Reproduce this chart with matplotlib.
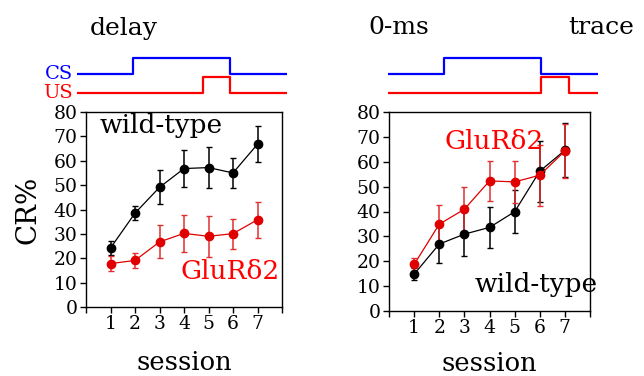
import matplotlib
matplotlib.use("Agg")
import matplotlib.pyplot as plt

plt.rcParams["font.family"] = ["DejaVu Serif"]

# session numbers
sessions = [1, 2, 3, 4, 5, 6, 7]

# delay paradigm (CR%, mean and s.e.m.)
delay_wt = [24.2, 38.5, 49.1, 56.8, 57.2, 55.0, 66.8]
delay_wt_err = [3.0, 3.0, 7.0, 7.7, 8.3, 6.2, 7.4]
delay_ko = [17.8, 19.1, 26.7, 30.2, 29.0, 30.1, 35.8]
delay_ko_err = [3.0, 3.0, 6.8, 7.7, 8.3, 6.2, 7.4]

# 0-ms trace paradigm
trace_wt = [14.8, 26.9, 30.9, 33.6, 39.9, 56.2, 64.6]
trace_wt_err = [2.5, 7.8, 8.7, 8.1, 8.6, 12.3, 10.9]
trace_ko = [18.7, 34.9, 40.9, 52.3, 51.9, 54.6, 64.3]
trace_ko_err = [2.8, 7.9, 9.0, 8.0, 8.4, 12.3, 11.0]

# stimulus timing (ms)
t_start, t_end = -200, 556
cs_on, cs_off = 0, 352
delay_us = (252, 352)
trace_us = (352, 452)

yticks = [0, 10, 20, 30, 40, 50, 60, 70, 80]

W, H = 644, 376
fig = plt.figure(figsize=(W / 100, H / 100), dpi=100)


def px_axes(x0, y0, x1, y1):
    return fig.add_axes([x0 / W, 1 - y1 / H, (x1 - x0) / W, (y1 - y0) / H])


def pulse(on, off):
    return [t_start, on, on, off, off, t_end], [0, 0, 1, 1, 0, 0]


def draw_stim(ax, us, labels):
    tx, ty = pulse(cs_on, cs_off)
    ax.plot(tx, [v + 1.2 for v in ty], color="#0000ff", lw=1.6)
    tx, ty = pulse(*us)
    ax.plot(tx, ty, color="#ff0000", lw=1.6)
    ax.set_xlim(t_start, t_end)
    ax.set_ylim(-0.2, 2.4)
    ax.axis("off")
    if labels:
        ax.text(t_start - 15, 1.2, "CS", color="#0000ff", ha="right",
                va="center", fontsize=14)
        ax.text(t_start - 15, 0, "US", color="#ff0000", ha="right",
                va="center", fontsize=14)


def draw_cr(ax, wt, wt_err, ko, ko_err):
    ax.errorbar(sessions, wt, yerr=wt_err, color="black", marker="o",
                markersize=6, lw=0.9, elinewidth=1.1, capsize=2.5)
    ax.errorbar(sessions, ko, yerr=ko_err, color="#e00000", marker="o",
                markersize=6, lw=0.9, elinewidth=1.1, capsize=2.5,
                ecolor="#e03030")
    ax.set_xlim(0, 8)
    ax.set_ylim(0, 80)
    ax.set_xticks(range(0, 9))
    ax.set_xticklabels([""] + [str(s) for s in sessions] + [""])
    ax.set_yticks(yticks)
    ax.tick_params(direction="out", length=4, width=1, labelsize=13.5, pad=2)
    for sp in ax.spines.values():
        sp.set_linewidth(1)


# delay
ax1 = px_axes(86, 112, 282, 307)
draw_cr(ax1, delay_wt, delay_wt_err, delay_ko, delay_ko_err)
ax1.text(0.55, 74.5, "wild-type", fontsize=19, va="center")
ax1.text(7.9, 14.5, "GluRδ2", fontsize=19, va="center", ha="right",
         color="#ff0000")
ax1.set_ylabel("CR%", fontsize=20, labelpad=9)
ax1.set_xlabel("session", fontsize=18.5, labelpad=12)

s1 = px_axes(77, 55, 287, 96)
draw_stim(s1, delay_us, True)
fig.text(90 / W, 1 - 28 / H, "delay", fontsize=18, va="center")

# 0-ms trace
ax2 = px_axes(389, 112, 590, 311)
draw_cr(ax2, trace_wt, trace_wt_err, trace_ko, trace_ko_err)
ax2.text(2.2, 68, "GluRδ2", fontsize=19, va="center", color="#ff0000")
ax2.text(3.4, 10.5, "wild-type", fontsize=19, va="center", clip_on=False)
ax2.set_xlabel("session", fontsize=18.5, labelpad=10)

s2 = px_axes(388, 55, 598, 96)
draw_stim(s2, trace_us, False)
fig.text(368 / W, 1 - 28 / H, "0-ms", fontsize=18, va="center")
fig.text(568 / W, 1 - 28 / H, "trace", fontsize=18, va="center")

fig.savefig("out.png", dpi=100)
